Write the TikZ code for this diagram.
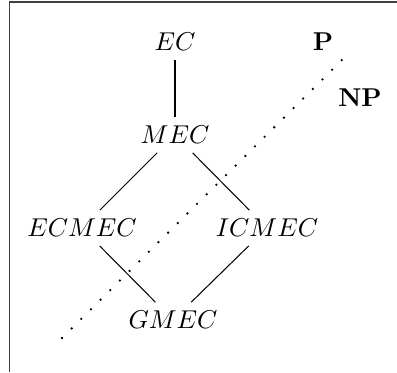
\documentclass[tikz,border=0pt]{standalone}
\usepackage{tikz}

\begin{document}
\begin{tikzpicture}[x=0.3876pt,y=-0.3876pt,
    class/.style={inner sep=3.3pt},
    cls/.style={font=\bfseries},
    border/.style={draw=black!75,line width=0.6pt},
    divide/.style={line width=1pt,line cap=round,dash pattern=on 0pt off 5.27pt}]
  \useasboundingbox (0,0) rectangle (397,372);
  \draw[border] (9.7,372) |- (397,2.2);

  \node[class] (ec)    at (175,42)  {$EC$};
  \node[class] (mec)   at (175,135) {$MEC$};
  \node[class] (ecmec) at (82,228)  {$ECMEC$};
  \node[class] (icmec) at (267,228) {$ICMEC$};
  \node[class] (gmec)  at (173,320) {$GMEC$};

  \draw (ec) -- (mec);
  \draw (mec) -- (ecmec);
  \draw (mec) -- (icmec);
  \draw (ecmec) -- (gmec);
  \draw (icmec) -- (gmec);

  % P / NP border
  \node[cls] (p)  at (323,42) {P};
  \node[cls] (np) at (360,98) {NP};
  \coordinate (lo) at (62,338);
  \coordinate (hi) at (351,51);
  \draw[divide] (lo) -- (hi);
\end{tikzpicture}
\end{document}
